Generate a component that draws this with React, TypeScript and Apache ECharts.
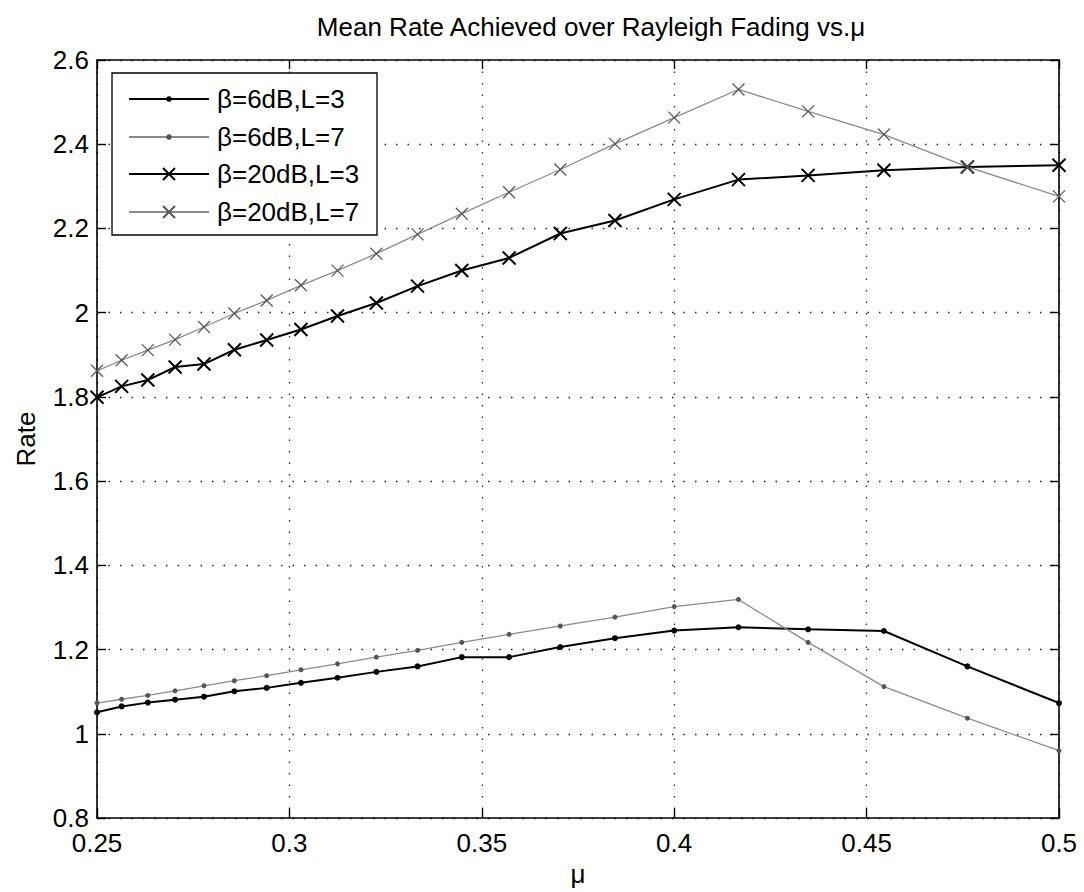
import React, { useEffect, useRef } from "react";
import * as echarts from "echarts";

const mu = [0.25, 0.2564, 0.2632, 0.2703, 0.2778, 0.2857, 0.2941, 0.303, 0.3125, 0.3226, 0.3333, 0.3448, 0.3571, 0.3704, 0.3846, 0.4, 0.4167, 0.4348, 0.4545, 0.4762, 0.5];
const rate6dBL3 = [1.051, 1.065, 1.074, 1.081, 1.088, 1.101, 1.109, 1.121, 1.133, 1.147, 1.16, 1.182, 1.182, 1.206, 1.227, 1.245, 1.253, 1.248, 1.244, 1.16, 1.073];
const rate6dBL7 = [1.073, 1.082, 1.091, 1.102, 1.114, 1.126, 1.138, 1.152, 1.166, 1.182, 1.198, 1.217, 1.236, 1.256, 1.277, 1.302, 1.319, 1.217, 1.112, 1.037, 0.96];
const rate20dBL3 = [1.799, 1.825, 1.84, 1.871, 1.878, 1.912, 1.935, 1.96, 1.992, 2.023, 2.063, 2.1, 2.13, 2.188, 2.219, 2.269, 2.316, 2.326, 2.338, 2.346, 2.35];
const rate20dBL7 = [1.862, 1.887, 1.911, 1.936, 1.966, 1.998, 2.029, 2.065, 2.1, 2.14, 2.186, 2.235, 2.286, 2.34, 2.401, 2.463, 2.53, 2.478, 2.423, 2.346, 2.276];
const seriesNames = ["β=6dB,L=3", "β=6dB,L=7", "β=20dB,L=3", "β=20dB,L=7"];
const titleText = "Mean Rate Achieved over Rayleigh Fading vs.μ";
const xName = "μ";
const yName = "Rate";

const FONT = "Liberation Sans";
const CROSS = "path://M0,0L10,10M10,0L0,10";

function pairs(ys: number[]) {
  return ys.map((v, i) => [mu[i], v]);
}

export default function App() {
  const ref = useRef<HTMLDivElement>(null);
  useEffect(() => {
    if (!ref.current) return;
    const chart = echarts.init(ref.current, null, { renderer: "svg" });
    const gridLine = { show: true, lineStyle: { color: "#222", width: 1.3, type: [1.5, 10] } };
    const axisLine = { show: true, onZero: false, lineStyle: { color: "#000", width: 1.6 } };
    const tick = { show: true, inside: true, length: 9, lineStyle: { color: "#000", width: 1.4 } };
    const labelStyle = { color: "#000", fontSize: 26, fontFamily: FONT };
    const fmt = (v: number) => String(+v.toFixed(2));
    const common = { silent: true, animation: false, emphasis: { disabled: true }, clip: false };
    chart.setOption({
      animation: false,
      backgroundColor: "#fff",
      title: {
        text: titleText,
        left: 586,
        top: 9,
        textAlign: "center",
        textStyle: { color: "#000", fontSize: 26, fontWeight: "normal", fontFamily: FONT },
      },
      grid: { left: 97, right: 25, top: 60, bottom: 74, containLabel: false },
      xAxis: [
        {
          type: "value", min: 0.25, max: 0.5, interval: 0.05, position: "bottom",
          axisLine, axisTick: tick, splitLine: gridLine,
          axisLabel: { ...labelStyle, margin: 14, lineHeight: 22, formatter: fmt },
          name: xName, nameLocation: "middle", nameGap: 38,
          nameTextStyle: { ...labelStyle },
        },
        {
          type: "value", min: 0.25, max: 0.5, interval: 0.05, position: "top",
          axisLine, axisTick: tick, splitLine: { show: false }, axisLabel: { show: false },
        },
      ],
      yAxis: [
        {
          type: "value", min: 0.8, max: 2.6, interval: 0.2, position: "left",
          axisLine, axisTick: tick, splitLine: gridLine,
          axisLabel: { ...labelStyle, margin: 8, lineHeight: 20, formatter: fmt },
          name: yName, nameLocation: "middle", nameGap: 58,
          nameTextStyle: { ...labelStyle },
        },
        {
          type: "value", min: 0.8, max: 2.6, interval: 0.2, position: "right",
          axisLine, axisTick: tick, splitLine: { show: false }, axisLabel: { show: false },
        },
      ],
      legend: [
        {
          data: [seriesNames[0], seriesNames[1]],
          orient: "vertical", left: 128, top: 86, padding: 0,
          itemWidth: 80, itemHeight: 7, itemGap: 12,
          selectedMode: false,
          textStyle: { ...labelStyle, lineHeight: 26, padding: [0, 0, 0, 3] },
        },
        {
          data: [seriesNames[2], seriesNames[3]],
          orient: "vertical", left: 128, top: 161, padding: 0,
          itemWidth: 80, itemHeight: 15, itemGap: 12,
          selectedMode: false,
          textStyle: { ...labelStyle, lineHeight: 26, padding: [0, 0, 0, 3] },
        },
      ],
      graphic: [
        {
          type: "rect", z: 3, silent: true,
          shape: { x: 112, y: 73, width: 265, height: 162 },
          style: { fill: "#fff", stroke: "#000", lineWidth: 1.3 },
        },
      ],
      series: [
        {
          ...common, type: "line", name: seriesNames[0], data: pairs(rate6dBL3),
          symbol: "circle", symbolSize: 6,
          lineStyle: { color: "#000", width: 2 },
          itemStyle: { color: "#000" },
        },
        {
          ...common, type: "line", name: seriesNames[1], data: pairs(rate6dBL7),
          symbol: "circle", symbolSize: 5,
          lineStyle: { color: "#8a8a8a", width: 1.3 },
          itemStyle: { color: "#555" },
        },
        {
          ...common, type: "line", name: seriesNames[2], data: pairs(rate20dBL3),
          symbol: CROSS, symbolSize: 13,
          lineStyle: { color: "#000", width: 2 },
          itemStyle: { color: "#000", borderColor: "#000", borderWidth: 2 },
        },
        {
          ...common, type: "line", name: seriesNames[3], data: pairs(rate20dBL7),
          symbol: CROSS, symbolSize: 12,
          lineStyle: { color: "#8a8a8a", width: 1.3 },
          itemStyle: { color: "#555", borderColor: "#555", borderWidth: 1.2 },
        },
      ],
    });
    return () => chart.dispose();
  }, []);
  return (
    <div
      ref={ref}
      style={{ position: "fixed", left: 0, top: 0, width: 1084, height: 892, background: "#fff" }}
    />
  );
}
